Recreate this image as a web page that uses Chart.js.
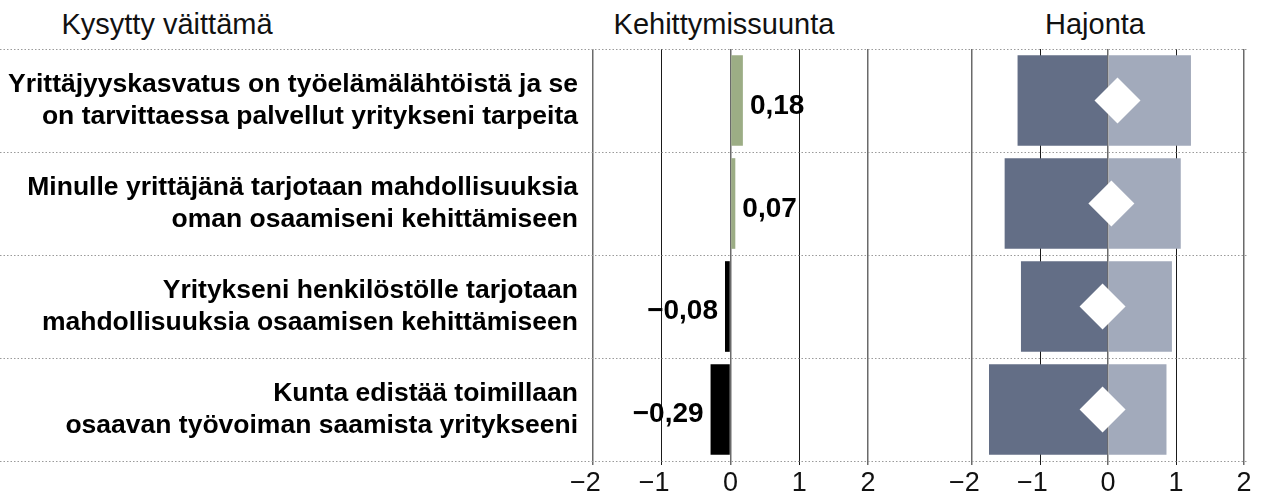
<!DOCTYPE html>
<html>
<head>
<meta charset="utf-8">
<script src="https://cdn.jsdelivr.net/npm/chart.js"></script>
<style>
  body { margin:0; background:#fff; }
  #wrap { position:relative; width:1267px; height:497px; overflow:hidden; }
  .head { position:absolute; top:10px; width:400px; text-align:center; font:29px/29px "Liberation Sans", Arial, sans-serif; color:#111; }
  canvas { position:absolute; top:0; }
</style>
</head>
<body>
<div id="wrap">
  <div class="head" style="left:-33px">Kysytty väittämä</div>
  <div class="head" style="left:524px">Kehittymissuunta</div>
  <div class="head" style="left:895px">Hajonta</div>
  <canvas id="trend_chart" width="930" height="497" style="left:0"></canvas>
  <canvas id="spread_chart" width="337" height="497" style="left:930px"></canvas>
</div>
<script>
// kysytyt väittämät
let categories = [
    ['Yrittäjyyskasvatus on työelämälähtöistä ja se', 'on tarvittaessa palvellut yritykseni tarpeita'],
    ['Minulle yrittäjänä tarjotaan mahdollisuuksia', 'oman osaamiseni kehittämiseen'],
    ['Yritykseni henkilöstölle tarjotaan', 'mahdollisuuksia osaamisen kehittämiseen'],
    ['Kunta edistää toimillaan', 'osaavan työvoiman saamista yritykseeni']
];
let trendValues = [0.18, 0.07, -0.08, -0.29];
// hajonta: alaraja, yläraja, keskikohta (vinoneliö)
let spreadLow = [-1.33, -1.52, -1.28, -1.75];
let spreadHigh = [1.22, 1.07, 0.94, 0.86];
let spreadMid = [0.14, 0.05, -0.08, -0.08];
let xMin = -2;
let xMax = 2;
let xStep = 1;

const FONT = '"Liberation Sans", Arial, sans-serif';

function tickLabel(v) {
    if (v < 0) return '\u2212' + Math.abs(v) + '\u2007';
    return String(v);
}
function gridColor(c) {
    let v = c.tick ? c.tick.value : 0;
    return Math.abs(v) === 1 ? '#1a1a1a' : '#6a6a6a';
}
function gridWidth(c) {
    let v = c.tick ? c.tick.value : 0;
    return Math.abs(v) === 1 ? 1 : 1.5;
}

// pisteviivat rivien väliin koko leveydeltä
const rowLines = {
    id: 'rowLines',
    beforeDatasetsDraw(chart, args, opts) {
        let a = chart.chartArea;
        let n = categories.length;
        let h = (a.bottom - a.top) / n;
        let ctx = chart.ctx;
        ctx.save();
        ctx.strokeStyle = '#9a9a9a';
        ctx.lineWidth = 1;
        ctx.setLineDash([1.5, 2]);
        for (let i = 0; i <= n; i++) {
            let y = Math.round(a.top + i * h) + 0.5;
            ctx.beginPath();
            ctx.moveTo(opts.from || 0, y);
            ctx.lineTo(opts.to || chart.width, y);
            ctx.stroke();
        }
        ctx.restore();
    }
};

// arvot palkkien päähän
const valueLabels = {
    id: 'valueLabels',
    afterDatasetsDraw(chart) {
        let ctx = chart.ctx;
        let meta = chart.getDatasetMeta(0);
        ctx.save();
        ctx.font = 'bold 28px ' + FONT;
        ctx.fillStyle = '#000';
        ctx.textBaseline = 'middle';
        meta.data.forEach(function(bar, i) {
            let v = trendValues[i];
            let txt = v.toFixed(2).replace('.', ',').replace('-', '\u2212');
            if (v >= 0) {
                ctx.textAlign = 'left';
                ctx.fillText(txt, bar.x + 7, bar.y + 6);
            } else {
                ctx.textAlign = 'right';
                ctx.fillText(txt, bar.x - 7, bar.y + 5);
            }
        });
        ctx.restore();
    }
};

let xAxis = {
    type: 'linear',
    min: xMin,
    max: xMax,
    ticks: {
        stepSize: xStep,
        padding: 5,
        color: '#111',
        font: { family: FONT, size: 27, lineHeight: 1 },
        callback: tickLabel
    },
    grid: { color: gridColor, lineWidth: gridWidth, drawTicks: true, tickLength: 4, tickColor: gridColor },
    border: { display: false },
    afterFit: function(s) { s.height = 36; }
};

new Chart(document.getElementById('trend_chart'), {
    type: 'bar',
    plugins: [rowLines, valueLabels],
    data: {
        labels: categories,
        datasets: [{
            label: 'Kehittymissuunta',
            data: trendValues,
            backgroundColor: trendValues.map(v => v >= 0 ? '#9cad85' : '#000'),
            categoryPercentage: 1,
            barPercentage: 0.88
        }]
    },
    options: {
        responsive: false,
        animation: false,
        indexAxis: 'y',
        layout: { padding: { top: 49, right: 62, left: 0, bottom: 0 } },
        plugins: {
            legend: { display: false },
            tooltip: { enabled: false },
            rowLines: { from: 0 }
        },
        scales: {
            x: xAxis,
            y: {
                grid: { display: false, drawTicks: false },
                border: { display: false },
                ticks: {
                    padding: 15,
                    color: '#000',
                    font: { family: FONT, size: 26.5, weight: 'bold', lineHeight: 1.22 }
                },
                afterFit: function(s) {
                    s.width = 593;
                    s.paddingTop = 0;
                    s.paddingBottom = 0;
                }
            }
        }
    }
});

new Chart(document.getElementById('spread_chart'), {
    type: 'bar',
    plugins: [rowLines],
    data: {
        labels: categories.map(c => c.join(' ')),
        datasets: [
            {
                type: 'scatter',
                label: 'Keskiarvo',
                data: spreadMid.map((v, i) => ({ x: v, y: i })),
                pointStyle: 'rectRot',
                pointRadius: 23,
                backgroundColor: '#fff',
                borderWidth: 0,
                order: 0
            },
            {
                label: 'Alle',
                data: spreadLow.map(v => [v, 0]),
                backgroundColor: '#636e86',
                grouped: false,
                categoryPercentage: 1,
                barPercentage: 0.88,
                order: 1
            },
            {
                label: 'Yli',
                data: spreadHigh.map(v => [0, v]),
                backgroundColor: '#a2aabb',
                grouped: false,
                categoryPercentage: 1,
                barPercentage: 0.88,
                order: 1
            }
        ]
    },
    options: {
        responsive: false,
        animation: false,
        indexAxis: 'y',
        layout: { padding: { top: 49, right: 21, left: 42, bottom: 0 } },
        plugins: {
            legend: { display: false },
            tooltip: { enabled: false },
            rowLines: { from: 0, to: 318 }
        },
        scales: {
            x: xAxis,
            y: { type: 'category', display: false }
        }
    }
});
</script>
</body>
</html>
